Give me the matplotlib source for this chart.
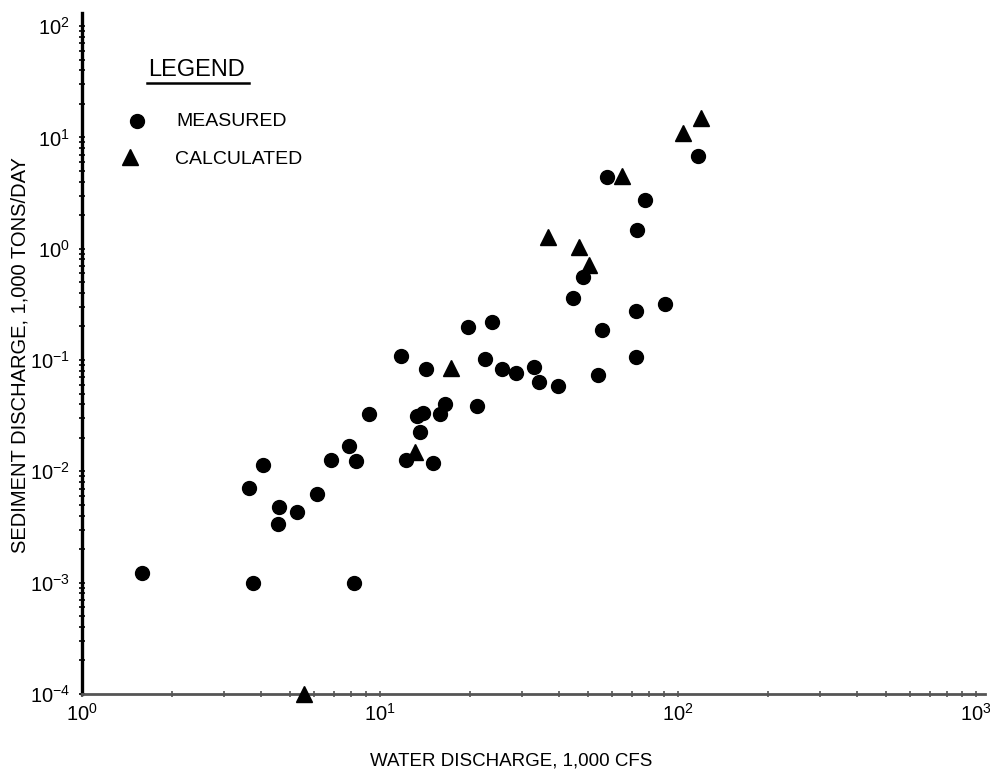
"""Sediment discharge vs water discharge, measured and calculated, on log-log axes."""

import matplotlib

matplotlib.use("Agg")
import matplotlib.pyplot as plt
from matplotlib.ticker import FixedLocator, LogLocator, NullFormatter

plt.rcParams["font.family"] = ["Liberation Sans", "DejaVu Sans"]
plt.rcParams["mathtext.fontset"] = "custom"
plt.rcParams["mathtext.rm"] = "Liberation Sans"

# water discharge (1,000 cfs) and sediment discharge (1,000 tons/day)
measured_q = [1.59, 3.75, 8.18, 3.63, 4.05, 4.58, 4.55, 5.27, 6.15, 6.85,
              7.87, 8.31, 9.19, 12.2, 15.1, 13.6, 13.3, 13.9, 15.9, 16.5,
              21.2, 11.8, 14.3, 19.7, 23.8, 22.5, 25.7, 28.6, 32.9, 34.2,
              39.6, 53.9, 44.4, 48.0, 55.6, 72.3, 72.3, 90.4, 72.8, 77.5,
              57.8, 117.0]
measured_qs = [0.00122, 0.0010, 0.0010, 0.00706, 0.0114, 0.00477, 0.00336,
               0.0043, 0.00624, 0.0126, 0.0168, 0.0124, 0.0327, 0.0126,
               0.0119, 0.0225, 0.0313, 0.0333, 0.0327, 0.0402, 0.0385,
               0.108, 0.0828, 0.198, 0.219, 0.102, 0.0828, 0.0763, 0.0863,
               0.0633, 0.0583, 0.0732, 0.36, 0.556, 0.186, 0.275, 0.106,
               0.318, 1.47, 2.73, 4.40, 6.79]

calculated_q = [5.56, 13.1, 17.3, 36.6, 46.5, 50.3, 64.9, 104.0, 119.0]
calculated_qs = [0.0001, 0.0149, 0.0846, 1.27, 1.03, 0.713, 4.49, 10.9, 14.9]

x_decades = [0, 1, 2, 3]
y_decades = [-4, -3, -2, -1, 0, 1, 2]

fig = plt.figure(figsize=(9.9, 7.73), dpi=100)
ax = fig.add_axes([82 / 990, 79 / 773, 903 / 990, 681 / 773])
ax.set_xscale("log")
ax.set_yscale("log")
ax.set_xlim(1, 10 ** 3.03)
ax.set_ylim(1e-4, 10 ** 2.117)

ax.plot(measured_q, measured_qs, "o", color="black", markersize=10,
        linestyle="none", clip_on=False, zorder=3)
ax.plot(calculated_q, calculated_qs, "^", color="black", markersize=11.5,
        linestyle="none", clip_on=False, zorder=3)

for side in ("top", "right"):
    ax.spines[side].set_visible(False)
ax.spines["left"].set_linewidth(2.4)
ax.spines["left"].set_color("black")
ax.spines["bottom"].set_linewidth(2.0)
ax.spines["bottom"].set_color("#555555")

ax.xaxis.set_major_locator(FixedLocator([10.0 ** d for d in x_decades]))
ax.yaxis.set_major_locator(FixedLocator([10.0 ** d for d in y_decades]))
ax.set_xticklabels([r"$\mathregular{10^{%d}}$" % d for d in x_decades])
ax.set_yticklabels([r"$\mathregular{10^{%d}}$" % d for d in y_decades])
for axis in (ax.xaxis, ax.yaxis):
    axis.set_minor_locator(LogLocator(base=10, subs=range(2, 10), numticks=20))
    axis.set_minor_formatter(NullFormatter())

ax.tick_params(which="both", direction="inout", length=5, width=1.2,
               labelsize=14.5, color="black")
ax.tick_params(axis="x", which="both", color="#555555", pad=4)
ax.tick_params(axis="y", pad=6)

ax.set_xlabel("WATER DISCHARGE, 1,000 CFS", fontsize=13.5)
ax.set_ylabel("SEDIMENT DISCHARGE, 1,000 TONS/DAY", fontsize=14.5)
ax.xaxis.set_label_coords(0.475, -0.086)
ax.yaxis.set_label_coords(-0.058, 0.497)

# legend drawn by hand in figure pixels
fig.text(148 / 990, 1 - 70 / 773, "LEGEND", fontsize=17, va="center", ha="left")
fig.add_artist(plt.Line2D([147 / 990, 249 / 990], [1 - 83 / 773] * 2,
                          color="black", linewidth=1.8))
fig.add_artist(plt.Line2D([137 / 990], [1 - 121 / 773], marker="o",
                          color="black", markersize=10))
fig.add_artist(plt.Line2D([130 / 990], [1 - 157 / 773], marker="^",
                          color="black", markersize=11.5))
fig.text(176 / 990, 1 - 121 / 773, "MEASURED", fontsize=14, va="center")
fig.text(175 / 990, 1 - 159 / 773, "CALCULATED", fontsize=14, va="center")

fig.savefig("out.png", dpi=100)
plt.close(fig)
